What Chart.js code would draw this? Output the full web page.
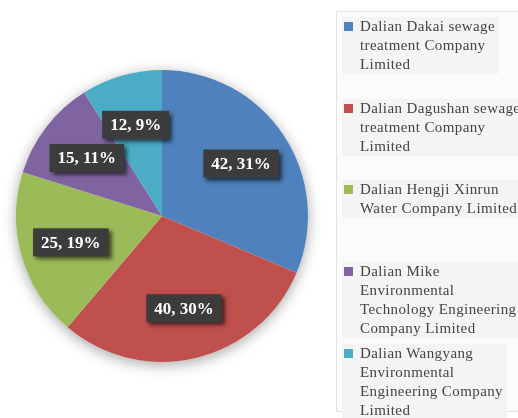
<!DOCTYPE html>
<html>
<head>
<meta charset="utf-8">
<script src="https://cdn.jsdelivr.net/npm/chart.js@4.4.1/dist/chart.umd.min.js"></script>
<style>
  html, body { margin: 0; padding: 0; background: #fff; }
  #wrap { position: absolute; left: 0; top: 0; width: 518px; height: 418px; }
  #legend {
    position: absolute; left: 336px; top: 11px; width: 200px; height: 401px;
    background: #fbfbfb; border: 1px solid #e2e2e2; box-sizing: border-box;
    font-family: "Liberation Serif", "DejaVu Serif", serif; font-size: 15px;
    letter-spacing: 0.4px; line-height: 19px; color: #444;
  }
  .item { position: absolute; left: 5px; padding: 0 4px 0 18px; background: #f4f4f4; white-space: nowrap; }
  .item .sw { position: absolute; left: 2px; top: 5px; width: 9px; height: 9px; }
</style>
</head>
<body>
<div id="wrap"><canvas id="pie"></canvas></div>
<div id="legend"></div>
<script>
const categories = [
  "Dalian Dakai sewage treatment Company Limited",
  "Dalian Dagushan sewage treatment Company Limited",
  "Dalian Hengji Xinrun Water Company Limited",
  "Dalian Mike Environmental Technology Engineering Company Limited",
  "Dalian Wangyang Environmental Engineering Company Limited"
];
const values = [42, 40, 25, 15, 12];
const colors = ["#4f81bd", "#c0504d", "#9bbb59", "#8064a2", "#4bacc6"];

// how the legend text wraps in the original
const legendLines = [
  ["Dalian Dakai sewage", "treatment Company", "Limited"],
  ["Dalian Dagushan sewage", "treatment Company", "Limited"],
  ["Dalian Hengji Xinrun", "Water Company Limited"],
  ["Dalian Mike", "Environmental", "Technology Engineering", "Company Limited"],
  ["Dalian Wangyang", "Environmental", "Engineering Company", "Limited"]
];

const total = values.reduce((a, b) => a + b, 0);

const pieShadow = {
  id: "pieShadow",
  beforeDatasetsDraw(chart) {
    const arc = chart.getDatasetMeta(0).data[0];
    const ctx = chart.ctx;
    ctx.save();
    ctx.shadowColor = "rgba(0,0,0,0.35)";
    ctx.shadowBlur = 14;
    ctx.shadowOffsetY = 3;
    ctx.beginPath();
    ctx.arc(arc.x, arc.y, arc.outerRadius, 0, Math.PI * 2);
    ctx.fillStyle = "#fff";
    ctx.fill();
    ctx.restore();
  }
};

const sliceLabels = {
  id: "sliceLabels",
  afterDatasetsDraw(chart) {
    const ctx = chart.ctx;
    const meta = chart.getDatasetMeta(0);
    ctx.save();
    ctx.font = "bold 17px 'Liberation Serif', serif";
    ctx.textAlign = "center";
    ctx.textBaseline = "middle";
    meta.data.forEach((arc, i) => {
      const p = arc.getProps(["x", "y", "startAngle", "endAngle", "outerRadius"], true);
      const mid = (p.startAngle + p.endAngle) / 2;
      const cx = p.x + Math.cos(mid) * p.outerRadius * 0.65;
      const cy = p.y + Math.sin(mid) * p.outerRadius * 0.65;
      const txt = values[i] + ", " + Math.round(values[i] / total * 100) + "%";
      const w = ctx.measureText(txt).width + 16;
      const h = 28;
      ctx.save();
      ctx.shadowColor = "rgba(0,0,0,0.6)";
      ctx.shadowBlur = 4;
      ctx.shadowOffsetX = 3;
      ctx.shadowOffsetY = 3;
      ctx.fillStyle = "#3c3c3c";
      ctx.fillRect(cx - w / 2, cy - h / 2, w, h);
      ctx.restore();
      ctx.fillStyle = "#fff";
      ctx.fillText(txt, cx, cy + 1);
    });
    ctx.restore();
  }
};

new Chart(document.getElementById("pie"), {
  type: "pie",
  data: {
    labels: categories,
    datasets: [{
      data: values,
      backgroundColor: colors,
      borderWidth: 0
    }]
  },
  options: {
    responsive: true,
    maintainAspectRatio: false,
    animation: false,
    layout: { padding: { left: 16, right: 210, top: 70, bottom: 56 } },
    plugins: {
      legend: { display: false },
      tooltip: { enabled: false }
    }
  },
  plugins: [pieShadow, sliceLabels]
});

// Legend
const legend = document.getElementById("legend");
categories.forEach((name, i) => {
  const div = document.createElement("div");
  div.className = "item";
  div.style.top = (5 + i * 81.7) + "px";
  div.title = name;
  const sw = document.createElement("span");
  sw.className = "sw";
  sw.style.background = colors[i];
  div.appendChild(sw);
  div.insertAdjacentHTML("beforeend", legendLines[i].join("<br>"));
  legend.appendChild(div);
});
</script>
</body>
</html>
